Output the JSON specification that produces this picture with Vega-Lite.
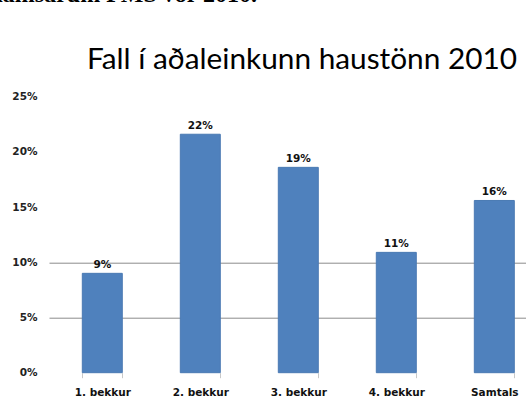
{
  "$schema": "https://vega.github.io/schema/vega-lite/v6.json",
  "width": 477,
  "height": 276,
  "autosize": {"type": "none"},
  "padding": {"left": 49, "top": 96.7, "right": 0, "bottom": 29.3},
  "background": "white",
  "config": {"view": {"stroke": null}, "font": "DejaVu Sans"},
  "data": {
    "values": [
      {"bekkur": "1. bekkur", "fall": 0.090},
      {"bekkur": "2. bekkur", "fall": 0.216},
      {"bekkur": "3. bekkur", "fall": 0.186},
      {"bekkur": "4. bekkur", "fall": 0.109},
      {"bekkur": "Samtals", "fall": 0.156}
    ]
  },
  "encoding": {
    "x": {
      "field": "bekkur",
      "type": "nominal",
      "sort": null,
      "scale": {"paddingInner": 0.592, "paddingOuter": 0.2296, "align": 0.74},
      "axis": {
        "title": "námsárum FMS vor 2010.",
        "titleFont": "Liberation Serif",
        "titleFontWeight": "bold",
        "titleFontSize": 24,
        "titleColor": "black",
        "titleAlign": "left",
        "titleAnchor": null,
        "titleBaseline": "alphabetic",
        "titleX": -60,
        "titleY": -371.5,
        "labelAngle": 0,
        "labelFont": "DejaVu Sans",
        "labelFontWeight": "bold",
        "labelFontSize": 10.5,
        "labelColor": "#111",
        "labelPadding": 10,
        "domain": false,
        "ticks": true,
        "tickBand": "extent",
        "tickColor": "#c8c8c8",
        "tickSize": 5,
        "grid": false
      }
    },
    "y": {
      "field": "fall",
      "type": "quantitative",
      "scale": {"domain": [0, 0.25], "nice": false},
      "axis": {
        "values": [0, 0.05, 0.1, 0.15, 0.2, 0.25],
        "format": ".0%",
        "title": "Fall í aðaleinkunn haustönn 2010",
        "titleFont": "Lato",
        "titleFontWeight": "normal",
        "titleFontSize": 29.8,
        "titleColor": "black",
        "titleAngle": 0,
        "titleAlign": "left",
        "titleAnchor": null,
        "titleBaseline": "alphabetic",
        "titleX": 37.5,
        "titleY": -28.7,
        "labelFont": "DejaVu Sans",
        "labelFontWeight": "bold",
        "labelFontSize": 10.5,
        "labelColor": "#222",
        "labelPadding": 12,
        "domain": false,
        "ticks": false,
        "grid": true,
        "gridColor": {"condition": {"test": "datum.value > 0.01 && datum.value < 0.11", "value": "#8c8c8c"}, "value": "transparent"},
        "gridWidth": 1
      }
    }
  },
  "layer": [
    {"mark": {"type": "bar", "color": "#4f81bd", "stroke": "#4a7ab3", "strokeWidth": 1}},
    {
      "mark": {"type": "text", "baseline": "bottom", "dy": -3, "font": "DejaVu Sans", "fontWeight": "bold", "fontSize": 10.5, "color": "#111"},
      "encoding": {"text": {"field": "fall", "type": "quantitative", "format": ".0%"}}
    }
  ]
}
